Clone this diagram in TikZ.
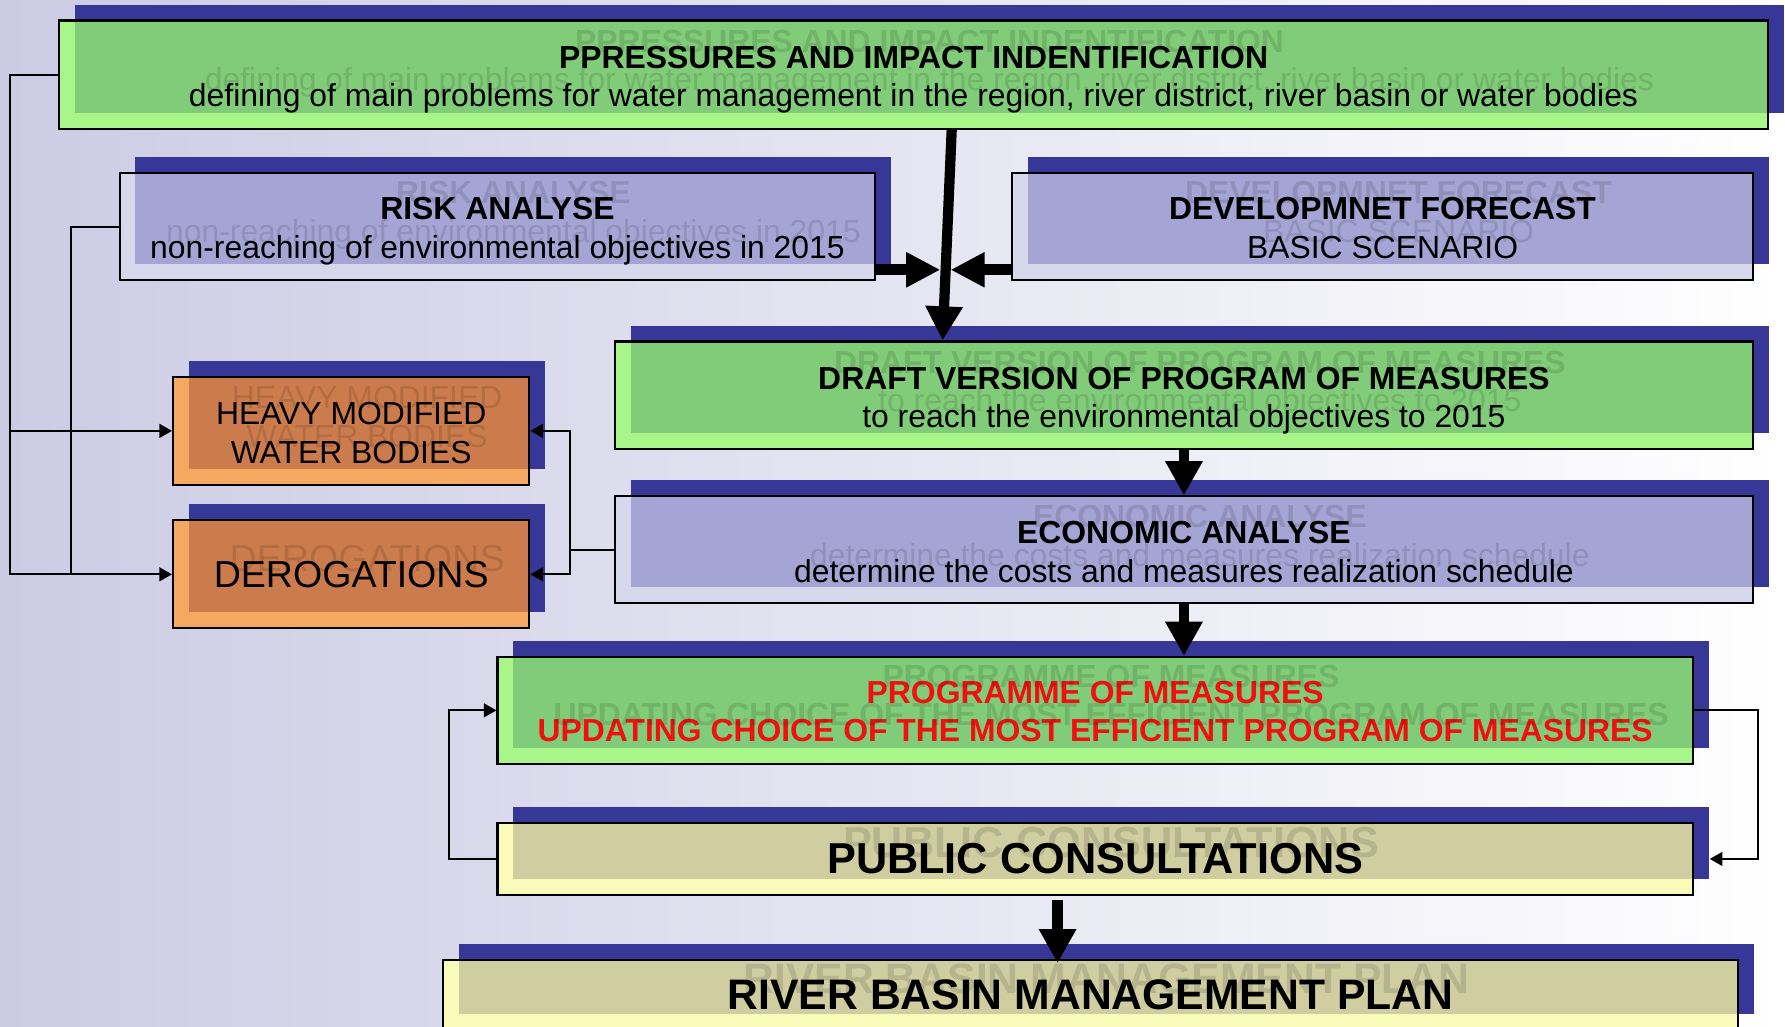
\documentclass[tikz,border=0pt]{standalone}
\usepackage{fontspec}
\setmainfont{Liberation Sans}
\usetikzlibrary{shadows,arrows.meta,calc}
\definecolor{sblue}{RGB}{55,55,152}
\definecolor{glight}{RGB}{168,245,138}
\definecolor{gdark}{RGB}{128,204,120}
\definecolor{blight}{RGB}{216,216,236}
\definecolor{bdark}{RGB}{165,165,213}
\definecolor{olight}{RGB}{244,168,96}
\definecolor{odark}{RGB}{204,124,76}
\definecolor{ylight}{RGB}{250,250,185}
\definecolor{ydark}{RGB}{208,206,160}
\definecolor{bgleft}{RGB}{203,203,228}
\definecolor{redtxt}{RGB}{240,16,16}
\begin{document}
\begin{tikzpicture}[x=1pt,y=-1pt,
  boxbase/.style={draw=black, line width=1.8pt, inner sep=0pt,
    general shadow={fill=sblue, shadow xshift=14pt, shadow yshift=14pt}},
  twotone/.style 2 args={boxbase, fill=#1,
    path picture={\fill[#2] ([xshift=14pt,yshift=14pt]path picture bounding box.south west)
      rectangle ([xshift=14pt,yshift=14pt]path picture bounding box.north east);}},
  greenbox/.style={twotone={glight}{gdark}},
  bluebox/.style={twotone={blight}{bdark}},
  orangebox/.style={twotone={olight}{odark}},
  yellowbox/.style={twotone={ylight}{ydark}},
  txt/.style={inner sep=0pt, align=center},
  ghost/.style={inner sep=0pt, align=center, text=black, text opacity=0.12},
  fmain/.style={font=\fontsize{28}{34}\selectfont},
  fred/.style={font=\fontsize{28}{34}\selectfont\bfseries},
  fdero/.style={font=\fontsize{33}{38}\selectfont},
  fpub/.style={font=\fontsize{38}{42}\selectfont\bfseries},
  friver/.style={font=\fontsize{37.5}{42}\selectfont\bfseries},
  bigarrow/.style={line width=9pt, -{Triangle[length=30pt,width=31pt]}},
  harrow/.style={line width=10pt, -{Triangle[length=30pt,width=29pt]}},
  conn/.style={line width=1.8pt},
  connarrow/.style={conn, -{Triangle[length=11pt,width=12pt]}}
]
\useasboundingbox (0,0) rectangle (1568,902);
\clip (0,0) rectangle (1568,902);
\shade[left color=bgleft, right color=white] (0,0) rectangle (1568,902);

% ---------- boxes
\node[greenbox, minimum width=1501pt, minimum height=95pt] (A) at (802.5,65.5) {};
\node[txt, fmain] (At) at ([yshift=-4.5pt]A.center)
  {\textbf{PPRESSURES AND IMPACT INDENTIFICATION}\\defining of main problems for water management in the region, river district, river basin or water bodies};
\node[ghost, fmain] (Ag) at ([xshift=14pt,yshift=14pt]At.center)
  {\textbf{PPRESSURES AND IMPACT INDENTIFICATION}\\defining of main problems for water management in the region, river district, river basin or water bodies};

\node[bluebox, minimum width=664pt, minimum height=94pt] (B) at (437,199) {};
\node[txt, fmain] (Bt) at ([yshift=-4pt]B.center)
  {\textbf{RISK ANALYSE}\\non-reaching of environmental objectives in 2015};
\node[ghost, fmain] (Bg) at ([xshift=14pt,yshift=14pt]Bt.center)
  {\textbf{RISK ANALYSE}\\non-reaching of environmental objectives in 2015};

\node[bluebox, minimum width=651pt, minimum height=94pt] (C) at (1214.5,199) {};
\node[txt, fmain] (Ct) at ([yshift=-1pt]C.center)
  {\textbf{DEVELOPMNET FORECAST}\\BASIC SCENARIO};
\node[ghost, fmain] (Cg) at ([xshift=14pt,yshift=14pt]Ct.center)
  {\textbf{DEVELOPMNET FORECAST}\\BASIC SCENARIO};

\node[orangebox, minimum width=313pt, minimum height=95pt] (D) at (308.5,378.5) {};
\node[txt, fmain] (Dt) at ([yshift=-2pt]D.center) {HEAVY MODIFIED\\WATER BODIES};
\node[ghost, fmain] (Dg) at ([xshift=14pt,yshift=14pt]Dt.center) {HEAVY MODIFIED\\WATER BODIES};

\node[orangebox, minimum width=313pt, minimum height=95pt] (E) at (308.5,504.5) {};
\node[txt, fdero] (Et) at (E.center) {DEROGATIONS};
\node[ghost, fdero] (Eg) at ([xshift=14pt,yshift=14pt]Et.center) {DEROGATIONS};

\node[greenbox, minimum width=1000pt, minimum height=94pt] (F) at (1040,347) {};
\node[txt, fmain] (Ft) at ([yshift=-5pt]F.center)
  {\textbf{DRAFT VERSION OF PROGRAM OF MEASURES}\\to reach the environmental objectives to 2015};
\node[ghost, fmain] (Fg) at ([xshift=14pt,yshift=14pt]Ft.center)
  {\textbf{DRAFT VERSION OF PROGRAM OF MEASURES}\\to reach the environmental objectives to 2015};

\node[bluebox, minimum width=1000pt, minimum height=94pt] (G) at (1040,483) {};
\node[txt, fmain] (Gt) at ([yshift=-2pt]G.center)
  {\textbf{ECONOMIC ANALYSE}\\determine the costs and measures realization schedule};
\node[ghost, fmain] (Gg) at ([xshift=14pt,yshift=14pt]Gt.center)
  {\textbf{ECONOMIC ANALYSE}\\determine the costs and measures realization schedule};

\node[greenbox, minimum width=1050pt, minimum height=94pt] (H) at (962,624) {};
\node[txt, fred, text=redtxt] (Ht) at ([yshift=-1pt]H.center)
  {PROGRAMME OF MEASURES\\UPDATING CHOICE OF THE MOST EFFICIENT PROGRAM OF MEASURES};
\node[ghost, fred] (Hg) at ([xshift=14pt,yshift=14pt]Ht.center)
  {PROGRAMME OF MEASURES\\UPDATING CHOICE OF THE MOST EFFICIENT PROGRAM OF MEASURES};

\node[yellowbox, minimum width=1050pt, minimum height=63pt] (I) at (962,754.5) {};
\node[txt, fpub] (It) at (I.center) {PUBLIC CONSULTATIONS};
\node[ghost, fpub] (Ig) at ([xshift=14pt,yshift=14pt]It.center) {PUBLIC CONSULTATIONS};

\node[yellowbox, minimum width=1138pt, minimum height=62pt] (J) at (958,874) {};
\node[txt, friver] (Jt) at (J.center) {RIVER BASIN MANAGEMENT PLAN};
\node[ghost, friver] (Jg) at ([xshift=14pt,yshift=14pt]Jt.center) {RIVER BASIN MANAGEMENT PLAN};

% ---------- thick arrows
\coordinate (mid) at (830.5,237);
\draw[bigarrow] ([xshift=33.5pt]A.south) -- ([xshift=-212pt]F.north);
\draw[harrow] ([yshift=-38pt]B.east) -- ([xshift=-4.5pt]mid);
\draw[harrow] ([yshift=-38pt]C.west) -- ([xshift=4.5pt]mid);
\draw[bigarrow] (F.south) -- (G.north);
\draw[bigarrow] (G.south) -- (G.south |- H.north);
\draw[bigarrow] ([xshift=-33pt,yshift=-4pt]I.south) -- ([xshift=-33pt,yshift=-4pt]I.south |- J.north);

% ---------- thin connectors
\draw[connarrow] (A.west) -- ++(-42,0) coordinate (a1) |- (E.west);
\draw[connarrow] (a1) |- (D.west);
\draw[conn] (B.west) -- ++(-42,0) coordinate (b1) -- (b1 |- E.west);
\draw[connarrow] (G.west) -- ++(-38,0) coordinate (g1) |- (D.east);
\draw[connarrow] (g1) |- (E.east);
\draw[connarrow] (I.west) -- ++(-42,0) |- (H.west);
\draw[connarrow] (H.east) -- ++(56,0) |- ([xshift=14pt]I.east);
\end{tikzpicture}
\end{document}
